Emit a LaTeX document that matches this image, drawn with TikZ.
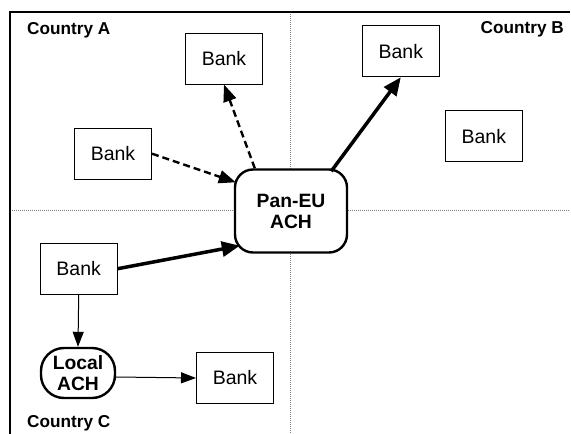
\documentclass[tikz,border=0pt]{standalone}
\usepackage{fontspec}
\setmainfont{Liberation Sans}
\usetikzlibrary{arrows.meta,calc}
\begin{document}
\begin{tikzpicture}[x=1pt,y=-1pt,
  bank/.style={draw, line width=1pt, minimum width=77pt, minimum height=51pt, inner sep=0pt, fill=white, font=\fontsize{19.5}{22}\selectfont},
  ach/.style={draw, line width=2.4pt, fill=white, align=center, font=\bfseries\fontsize{19.3}{21}\selectfont, inner sep=0pt},
  country/.style={font=\bfseries\fontsize{17.2}{19}\selectfont, inner sep=0pt},
  grid/.style={gray, line width=0.9pt, dash pattern=on 1pt off 1pt},
  dasharr/.style={line width=2.4pt, dash pattern=on 7pt off 4pt, -{Triangle[length=17pt,width=13pt]}},
  thickarr/.style={line width=3.5pt, -{Triangle[length=18pt,width=15pt]}},
  thinarr/.style={line width=1pt, -{Triangle[length=15pt,width=11pt]}}]
\useasboundingbox (0,0) rectangle (571,434);
\draw[grid] (290,14) -- (290,434);
\draw[grid] (12,210) -- (569,210);
\draw[line width=2.6pt] (10,434) -- (10,12) -- (570,12);

\node[bank] (bt) at (224,58.5) {Bank};
\node[bank] (ba) at (113,153.7) {Bank};
\node[bank] (bb1) at (400.8,51.3) {Bank};
\node[bank] (bb2) at (483.8,136.2) {Bank};
\node[bank] (bc) at (78.7,268.7) {Bank};
\node[bank] (bd) at (235,378) {Bank};
\node[ach, minimum width=112pt, minimum height=83pt, rounded corners=18pt] (pan) at (291,211) {Pan-EU\\ACH};
\node[ach, minimum width=74pt, minimum height=50pt, rounded corners=23pt] (loc) at (78,373) {Local\\ACH};

\node[country, anchor=base west] (ca) at (27,34) {Country A};
\node[country, anchor=base east] (cb) at (564,33) {Country B};
\node[country, anchor=base west] (cc) at (27,427) {Country C};

\draw[dasharr] (ba.east) -- ($(pan.north west)+(2,14)$);
\draw[dasharr] ($(pan.north west)+(21,0)$) -- (bt.south);
\draw[thickarr] ($(pan.north east)+(-17,3)$) -- (bb1.south);
\draw[thickarr] (bc.east) -- ($(pan.south west)+(6,-8)$);
\draw[thinarr] (bc.south) -- (loc.north);
\draw[thinarr] ($(loc.east)+(0,4)$) -- (bd.west);
\end{tikzpicture}
\end{document}
